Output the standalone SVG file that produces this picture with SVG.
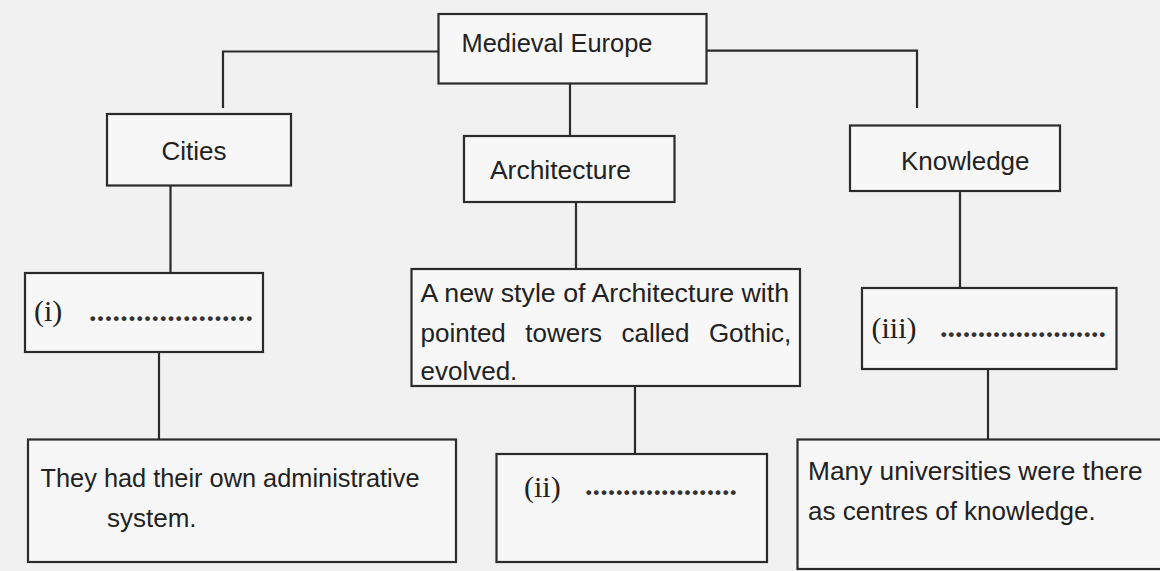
<svg xmlns="http://www.w3.org/2000/svg" width="1160" height="571" viewBox="0 0 1160 571">
<style>
.bg{fill:#f1f1f1}
.box{fill:#f7f7f7;stroke:#2b2b2b;stroke-width:2.2}
.t{font-family:"Liberation Sans",Arial,sans-serif;font-size:26px;fill:#222}
.r{font-family:"Liberation Serif","Times New Roman",serif;font-size:30px;fill:#222}
.d{font-family:"Liberation Serif","Times New Roman",serif;font-size:30px;font-weight:bold;fill:#333}
.c{fill:none;stroke:#2b2b2b;stroke-width:2.2}
</style>
<rect class="bg" x="0" y="0" width="1160" height="571"/>
<g id="connectors">
<polyline class="c" points="438,51.5 223,51.5 223,108"/>
<polyline class="c" points="707,50.7 917,50.7 917,108"/>
<line class="c" x1="570" y1="83.5" x2="570" y2="136"/>
<line class="c" x1="170.5" y1="185.5" x2="170.5" y2="273"/>
<line class="c" x1="159" y1="352" x2="159" y2="439"/>
<line class="c" x1="576" y1="202" x2="576" y2="269"/>
<line class="c" x1="635" y1="386" x2="635" y2="454"/>
<line class="c" x1="960" y1="191" x2="960" y2="288"/>
<line class="c" x1="988" y1="369" x2="988" y2="439"/>
</g>
<g id="medieval-europe">
<rect class="box" x="438.5" y="14" width="268" height="69.5"/>
<text class="t" x="461.5" y="52" textLength="191" lengthAdjust="spacingAndGlyphs">Medieval Europe</text>
</g>
<g id="cities">
<rect class="box" x="107" y="114" width="184" height="71.5"/>
<text class="t" x="161.5" y="159.5" textLength="65" lengthAdjust="spacingAndGlyphs">Cities</text>
</g>
<g id="architecture">
<rect class="box" x="464" y="136" width="210.5" height="66"/>
<text class="t" x="490" y="178.5" textLength="141" lengthAdjust="spacingAndGlyphs">Architecture</text>
</g>
<g id="knowledge">
<rect class="box" x="850" y="125.5" width="210" height="65.5"/>
<text class="t" x="901" y="169.5" textLength="128.5" lengthAdjust="spacingAndGlyphs">Knowledge</text>
</g>
<g id="cities-i">
<rect class="box" x="25" y="273" width="238" height="79"/>
<text class="r" x="34" y="321" font-size="32">(i)</text>
<text class="d" x="89" y="321" textLength="164" lengthAdjust="spacing">.....................</text>
</g>
<g id="gothic">
<rect class="box" x="411.5" y="269" width="388.5" height="117"/>
<text class="t" x="420.5" y="301.5" textLength="368.5" lengthAdjust="spacingAndGlyphs">A new style of Architecture with</text>
<text class="t" x="420.5" y="341.5" word-spacing="12.3">pointed towers called Gothic,</text>
<text class="t" x="420.5" y="380">evolved.</text>
</g>
<g id="knowledge-iii">
<rect class="box" x="862" y="288" width="254.5" height="81"/>
<text class="r" x="871.5" y="338">(iii)</text>
<text class="d" x="940" y="337" textLength="166" lengthAdjust="spacing">......................</text>
</g>
<g id="administrative">
<rect class="box" x="28" y="439.5" width="428" height="122.5"/>
<text class="t" x="40.5" y="486.5" textLength="379" lengthAdjust="spacingAndGlyphs">They had their own administrative</text>
<text class="t" x="107" y="527">system.</text>
</g>
<g id="architecture-ii">
<rect class="box" x="496.5" y="454" width="270.5" height="108"/>
<text class="r" x="524" y="497">(ii)</text>
<text class="d" x="585" y="495" textLength="152" lengthAdjust="spacing">....................</text>
</g>
<g id="universities">
<rect class="box" x="797.5" y="439.5" width="370" height="129.5"/>
<text class="t" x="808" y="479.5" textLength="334.5" lengthAdjust="spacingAndGlyphs">Many universities were there</text>
<text class="t" x="808" y="519.5">as centres of knowledge.</text>
</g>
</svg>
